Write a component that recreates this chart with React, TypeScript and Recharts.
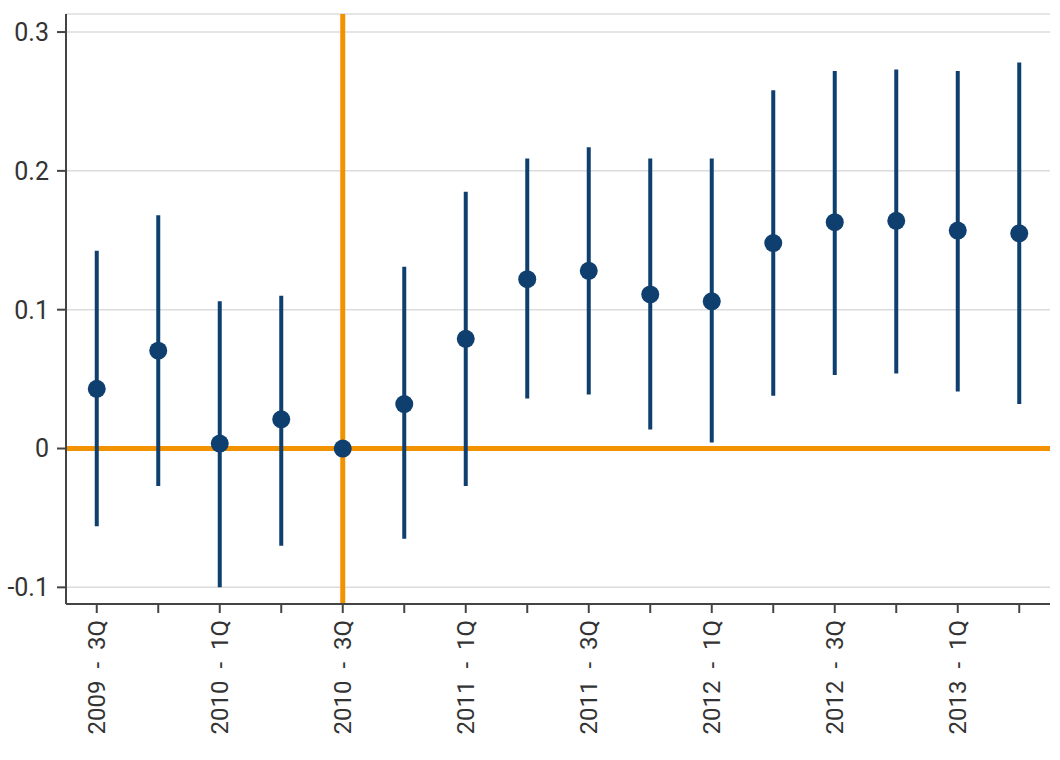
import React from "react";
import {
  ComposedChart,
  Line,
  ErrorBar,
  XAxis,
  YAxis,
  CartesianGrid,
  ReferenceLine,
} from "recharts";

const quarters = [
  "2009 - 3Q", "2009 - 4Q", "2010 - 1Q", "2010 - 2Q",
  "2010 - 3Q", "2010 - 4Q", "2011 - 1Q", "2011 - 2Q",
  "2011 - 3Q", "2011 - 4Q", "2012 - 1Q", "2012 - 2Q",
  "2012 - 3Q", "2012 - 4Q", "2013 - 1Q", "2013 - 2Q",
];
const estimates = [0.043, 0.0705, 0.0036, 0.021, 0, 0.032, 0.079, 0.122, 0.128, 0.111, 0.106, 0.148, 0.163, 0.164, 0.157, 0.155];
const upper = [0.1424, 0.168, 0.106, 0.110, 0, 0.131, 0.185, 0.209, 0.217, 0.209, 0.209, 0.258, 0.272, 0.273, 0.272, 0.278];
const lower = [-0.056, -0.027, -0.1, -0.070, 0, -0.065, -0.027, 0.036, 0.039, 0.0137, 0.0043, 0.038, 0.053, 0.054, 0.041, 0.032];
const yTicks = [-0.1, 0, 0.1, 0.2, 0.3];
const refQuarter = "2010 - 3Q";

const data = quarters.map((q, i) => ({
  q,
  v: estimates[i],
  err: [estimates[i] - lower[i], upper[i] - estimates[i]],
}));

const BLUE = "#0f3f6e";
const ORANGE = "#f39200";
const TEXT = "#333333";
const FS_Y = 25;
const FS_X = 24;

const renderXTick = (props: any) => {
  const { x, y, payload, index } = props;
  if (index % 2 !== 0) return <g />;
  return (
    <text
      x={x}
      y={y}
      transform={`rotate(-90, ${x}, ${y})`}
      textAnchor="end"
      dy="0.35em"
      fill={TEXT}
      style={{ fontSize: FS_X, fontFamily: "Roboto", wordSpacing: 6 }}
    >
      {payload.value}
    </text>
  );
};

export default function App() {
  return (
    <div style={{ position: "absolute", left: 0, top: 0, width: 1060, height: 760, background: "#fff", fontFamily: "Roboto" }}>
      <ComposedChart
        width={1060}
        height={760}
        data={data}
        margin={{ top: 14, right: 10, bottom: 0, left: 0 }}
      >
        <CartesianGrid vertical={false} stroke="#dcdcdc" strokeWidth={1.5} />
        <XAxis
          dataKey="q"
          interval={0}
          height={156}
          padding={{ left: 30.75, right: 30.75 }}
          tickSize={9}
          tickMargin={7}
          tick={renderXTick}
          axisLine={{ stroke: "#444", strokeWidth: 2 }}
          tickLine={{ stroke: "#444", strokeWidth: 2 }}
        />
        <YAxis
          type="number"
          domain={[-0.112, 0.313]}
          ticks={yTicks}
          width={66}
          tickSize={9}
          tickMargin={8}
          tickFormatter={(v: number) => String(v)}
          tick={{ fill: TEXT, fontSize: FS_Y, fontFamily: "Roboto" }}
          axisLine={{ stroke: "#444", strokeWidth: 2 }}
          tickLine={{ stroke: "#444", strokeWidth: 2 }}
        />
        <ReferenceLine y={0} stroke={ORANGE} strokeWidth={5} />
        <ReferenceLine x={refQuarter} stroke={ORANGE} strokeWidth={5} />
        <Line
          dataKey="v"
          stroke="none"
          isAnimationActive={false}
          dot={{ r: 9, fill: BLUE, stroke: "none" }}
          activeDot={false}
        >
          <ErrorBar dataKey="err" direction="y" width={0} stroke={BLUE} strokeWidth={4} />
        </Line>
      </ComposedChart>
    </div>
  );
}
